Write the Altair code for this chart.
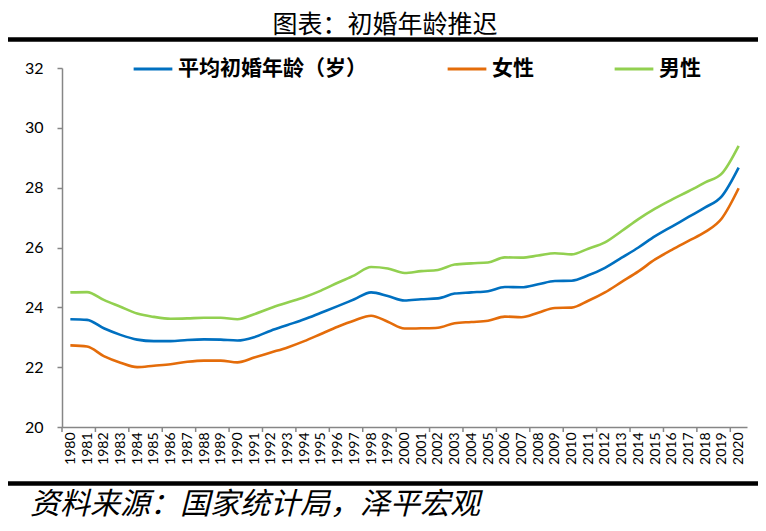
import altair as alt
import pandas as pd

years = list(range(1980, 2021))
series_names = ["平均初婚年龄（岁）", "女性", "男性"]
series_colors = ["#0070C0", "#E46C0A", "#92D050"]

avg_age = [23.60, 23.58, 23.30, 23.08, 22.92, 22.87, 22.87, 22.91, 22.93, 22.92,
           22.89, 23.00, 23.22, 23.41, 23.60, 23.82, 24.04, 24.27, 24.50, 24.38,
           24.23, 24.27, 24.30, 24.46, 24.50, 24.54, 24.68, 24.67, 24.77, 24.88,
           24.89, 25.07, 25.32, 25.66, 26.00, 26.38, 26.70, 27.02, 27.34, 27.72,
           28.67]
female_age = [22.73, 22.69, 22.37, 22.15, 22.00, 22.05, 22.10, 22.18, 22.22, 22.22,
              22.16, 22.32, 22.49, 22.66, 22.87, 23.11, 23.35, 23.56, 23.72, 23.52,
              23.29, 23.30, 23.32, 23.47, 23.51, 23.55, 23.69, 23.67, 23.82, 23.98,
              23.99, 24.22, 24.50, 24.85, 25.20, 25.60, 25.92, 26.22, 26.52, 26.98,
              27.98]
male_age = [24.50, 24.51, 24.25, 24.02, 23.79, 23.68, 23.62, 23.63, 23.65, 23.65,
            23.60, 23.77, 23.98, 24.16, 24.34, 24.56, 24.82, 25.07, 25.35, 25.30,
            25.15, 25.21, 25.25, 25.43, 25.47, 25.50, 25.67, 25.66, 25.73, 25.81,
            25.77, 25.96, 26.17, 26.55, 26.95, 27.30, 27.60, 27.88, 28.18, 28.48,
            29.40]
y_ticks = [20, 22, 24, 26, 28, 30, 32]
tick_marks = [y - 0.5 for y in years[::2]]

title_text = "图表：初婚年龄推迟"
source_text = "资料来源：国家统计局，泽平宏观"

rows = []
for name, vals in zip(series_names, [avg_age, female_age, male_age]):
    for yr, v in zip(years, vals):
        rows.append({"year": yr, "series": name, "value": v})
df = pd.DataFrame(rows)

W, H = 685, 359
xscale = alt.Scale(domain=[1979.5, 2020.5], nice=False, zero=False)
x_axis = alt.Axis(values=years, format="d", labelAngle=270, ticks=False,
                  labelPadding=5, labelFontSize=14, labelFont="Lato",
                  labelColor="#000", domainColor="#868686", domainWidth=1.5,
                  grid=False, title=None, labelOverlap=False)

lines = alt.Chart(df).mark_line(strokeWidth=2.6, interpolate="monotone").encode(
    x=alt.X("year:Q", scale=xscale, axis=x_axis),
    y=alt.Y("value:Q", scale=alt.Scale(domain=[20, 32], nice=False, zero=False),
            axis=alt.Axis(values=y_ticks, tickSize=5, tickColor="#868686", tickWidth=1.5,
                          domainColor="#868686", domainWidth=1.5, labelPadding=14,
                          labelFontSize=16, labelFont="Lato", labelColor="#000",
                          grid=False, title=None)),
    color=alt.Color("series:N",
                    scale=alt.Scale(domain=series_names, range=series_colors),
                    legend=alt.Legend(orient="none", legendX=70, legendY=-20,
                                      direction="horizontal", title=None,
                                      symbolType="stroke", symbolSize=1500,
                                      symbolStrokeWidth=3, labelFontSize=21,
                                      labelFont="Noto Sans CJK SC", labelFontWeight="bold",
                                      labelColor="#000", columnPadding=74,
                                      labelOffset=4, labelLimit=400)),
)

ticks = alt.Chart(pd.DataFrame({"t": tick_marks})).mark_rule(
    color="#868686", strokeWidth=1.5).encode(
    x=alt.X("t:Q", scale=xscale, axis=x_axis), y=alt.value(H), y2=alt.value(H + 5))

deco = pd.DataFrame({"k": [0]})
title = alt.Chart(deco).mark_text(
    text=title_text, fontSize=25, font="Noto Sans CJK SC", color="#000",
    align="center", baseline="alphabetic").encode(x=alt.value(323), y=alt.value(-35))
bar_top = alt.Chart(deco).mark_rule(color="#000", strokeWidth=4.5).encode(
    x=alt.value(-60), x2=alt.value(710), y=alt.value(-28.5))
bar_bot = alt.Chart(deco).mark_rule(color="#000", strokeWidth=4.5).encode(
    x=alt.value(-60), x2=alt.value(710), y=alt.value(415.5))
source = alt.Chart(deco).mark_text(
    text=source_text, fontSize=30, font="Noto Sans CJK SC", fontStyle="italic",
    color="#000", align="left", baseline="middle").encode(x=alt.value(-32), y=alt.value(437))

chart = alt.layer(lines, ticks, title, bar_top, bar_bot, source).properties(
    width=W, height=H,
    autosize=alt.AutoSizeParams(type="none"),
    padding={"left": 54, "top": 60, "right": 11, "bottom": 96},
).configure_view(stroke=None)

chart.save("out.html", embed_options={"renderer": "svg", "actions": False})
